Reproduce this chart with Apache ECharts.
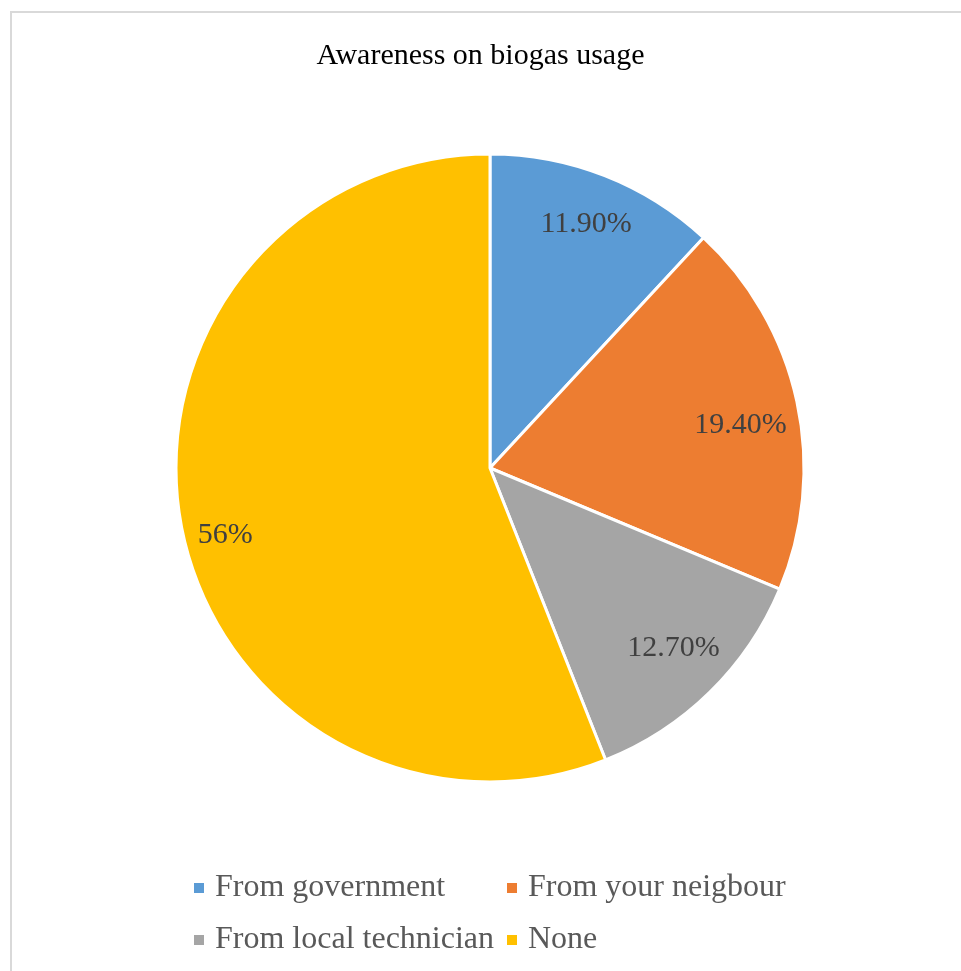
<!DOCTYPE html>
<html>
<head>
<meta charset="utf-8">
<script src="https://cdn.jsdelivr.net/npm/echarts@6/dist/echarts.min.js"></script>
<style>
  html, body { margin: 0; padding: 0; background: #fff; }
  #chart { width: 961px; height: 971px; }
</style>
</head>
<body>
<div id="chart"></div>
<script>
// Sources of awareness on biogas usage (percent of respondents)
const categories = ['From government', 'From your neigbour', 'From local technician', 'None'];
const shares = [11.9, 19.4, 12.7, 56];
const shareLabels = ['11.90%', '19.40%', '12.70%', '56%'];
const colors = ['#5B9BD5', '#ED7D31', '#A5A5A5', '#FFC000'];
// small nudges of each value label away from the slice's mid-line
const labelNudges = [[1, -1], [-4, 12], [1, -6], [-9, 18]];

const serif = '"Liberation Serif", "Times New Roman", serif';
const R = 314;
const CENTER = [490, 468];

const pieData = categories.map((name, i) => ({ name: name, value: shares[i] }));
const labelData = categories.map((name, i) => ({
  name: name,
  value: shares[i],
  label: { formatter: shareLabels[i], offset: labelNudges[i] }
}));

const legendText = { fontFamily: serif, fontSize: 32, color: '#595959', padding: [0, 0, 0, 5] };

const chart = echarts.init(document.getElementById('chart'), null, { renderer: 'canvas' });
chart.setOption({
  backgroundColor: '#ffffff',
  color: colors,
  animation: false,
  title: {
    text: 'Awareness on biogas usage',
    left: 'center',
    top: 36,
    textStyle: { fontFamily: serif, fontWeight: 'normal', fontSize: 30, color: '#000000' }
  },
  graphic: [{
    type: 'rect',
    shape: { x: 11, y: 12, width: 1000, height: 1000 },
    style: { fill: 'none', stroke: '#D9D9D9', lineWidth: 2 },
    silent: true
  }],
  legend: [
    {
      orient: 'vertical',
      left: 192,
      top: 872,
      padding: 0,
      itemGap: 20,
      itemWidth: 12,
      itemHeight: 12,
      icon: 'rect',
      data: ['From government', 'From local technician'],
      textStyle: legendText
    },
    {
      orient: 'vertical',
      left: 505,
      top: 872,
      padding: 0,
      itemGap: 20,
      itemWidth: 12,
      itemHeight: 12,
      icon: 'rect',
      data: ['From your neigbour', 'None'],
      textStyle: legendText
    }
  ],
  series: [
    {
      type: 'pie',
      center: CENTER,
      radius: [0, R],
      startAngle: 90,
      clockwise: true,
      avoidLabelOverlap: false,
      itemStyle: { borderColor: '#ffffff', borderWidth: 3 },
      label: { show: false },
      labelLine: { show: false },
      data: pieData
    },
    {
      // transparent ring that places the value labels near the outer edge
      type: 'pie',
      center: CENTER,
      radius: [R * 0.64, R],
      startAngle: 90,
      clockwise: true,
      silent: true,
      avoidLabelOverlap: false,
      itemStyle: { color: 'rgba(0,0,0,0)', borderWidth: 0 },
      label: {
        show: true,
        position: 'inside',
        fontFamily: serif,
        fontSize: 30,
        color: '#404040'
      },
      labelLine: { show: false },
      emphasis: { disabled: true },
      data: labelData
    }
  ]
});
</script>
</body>
</html>
